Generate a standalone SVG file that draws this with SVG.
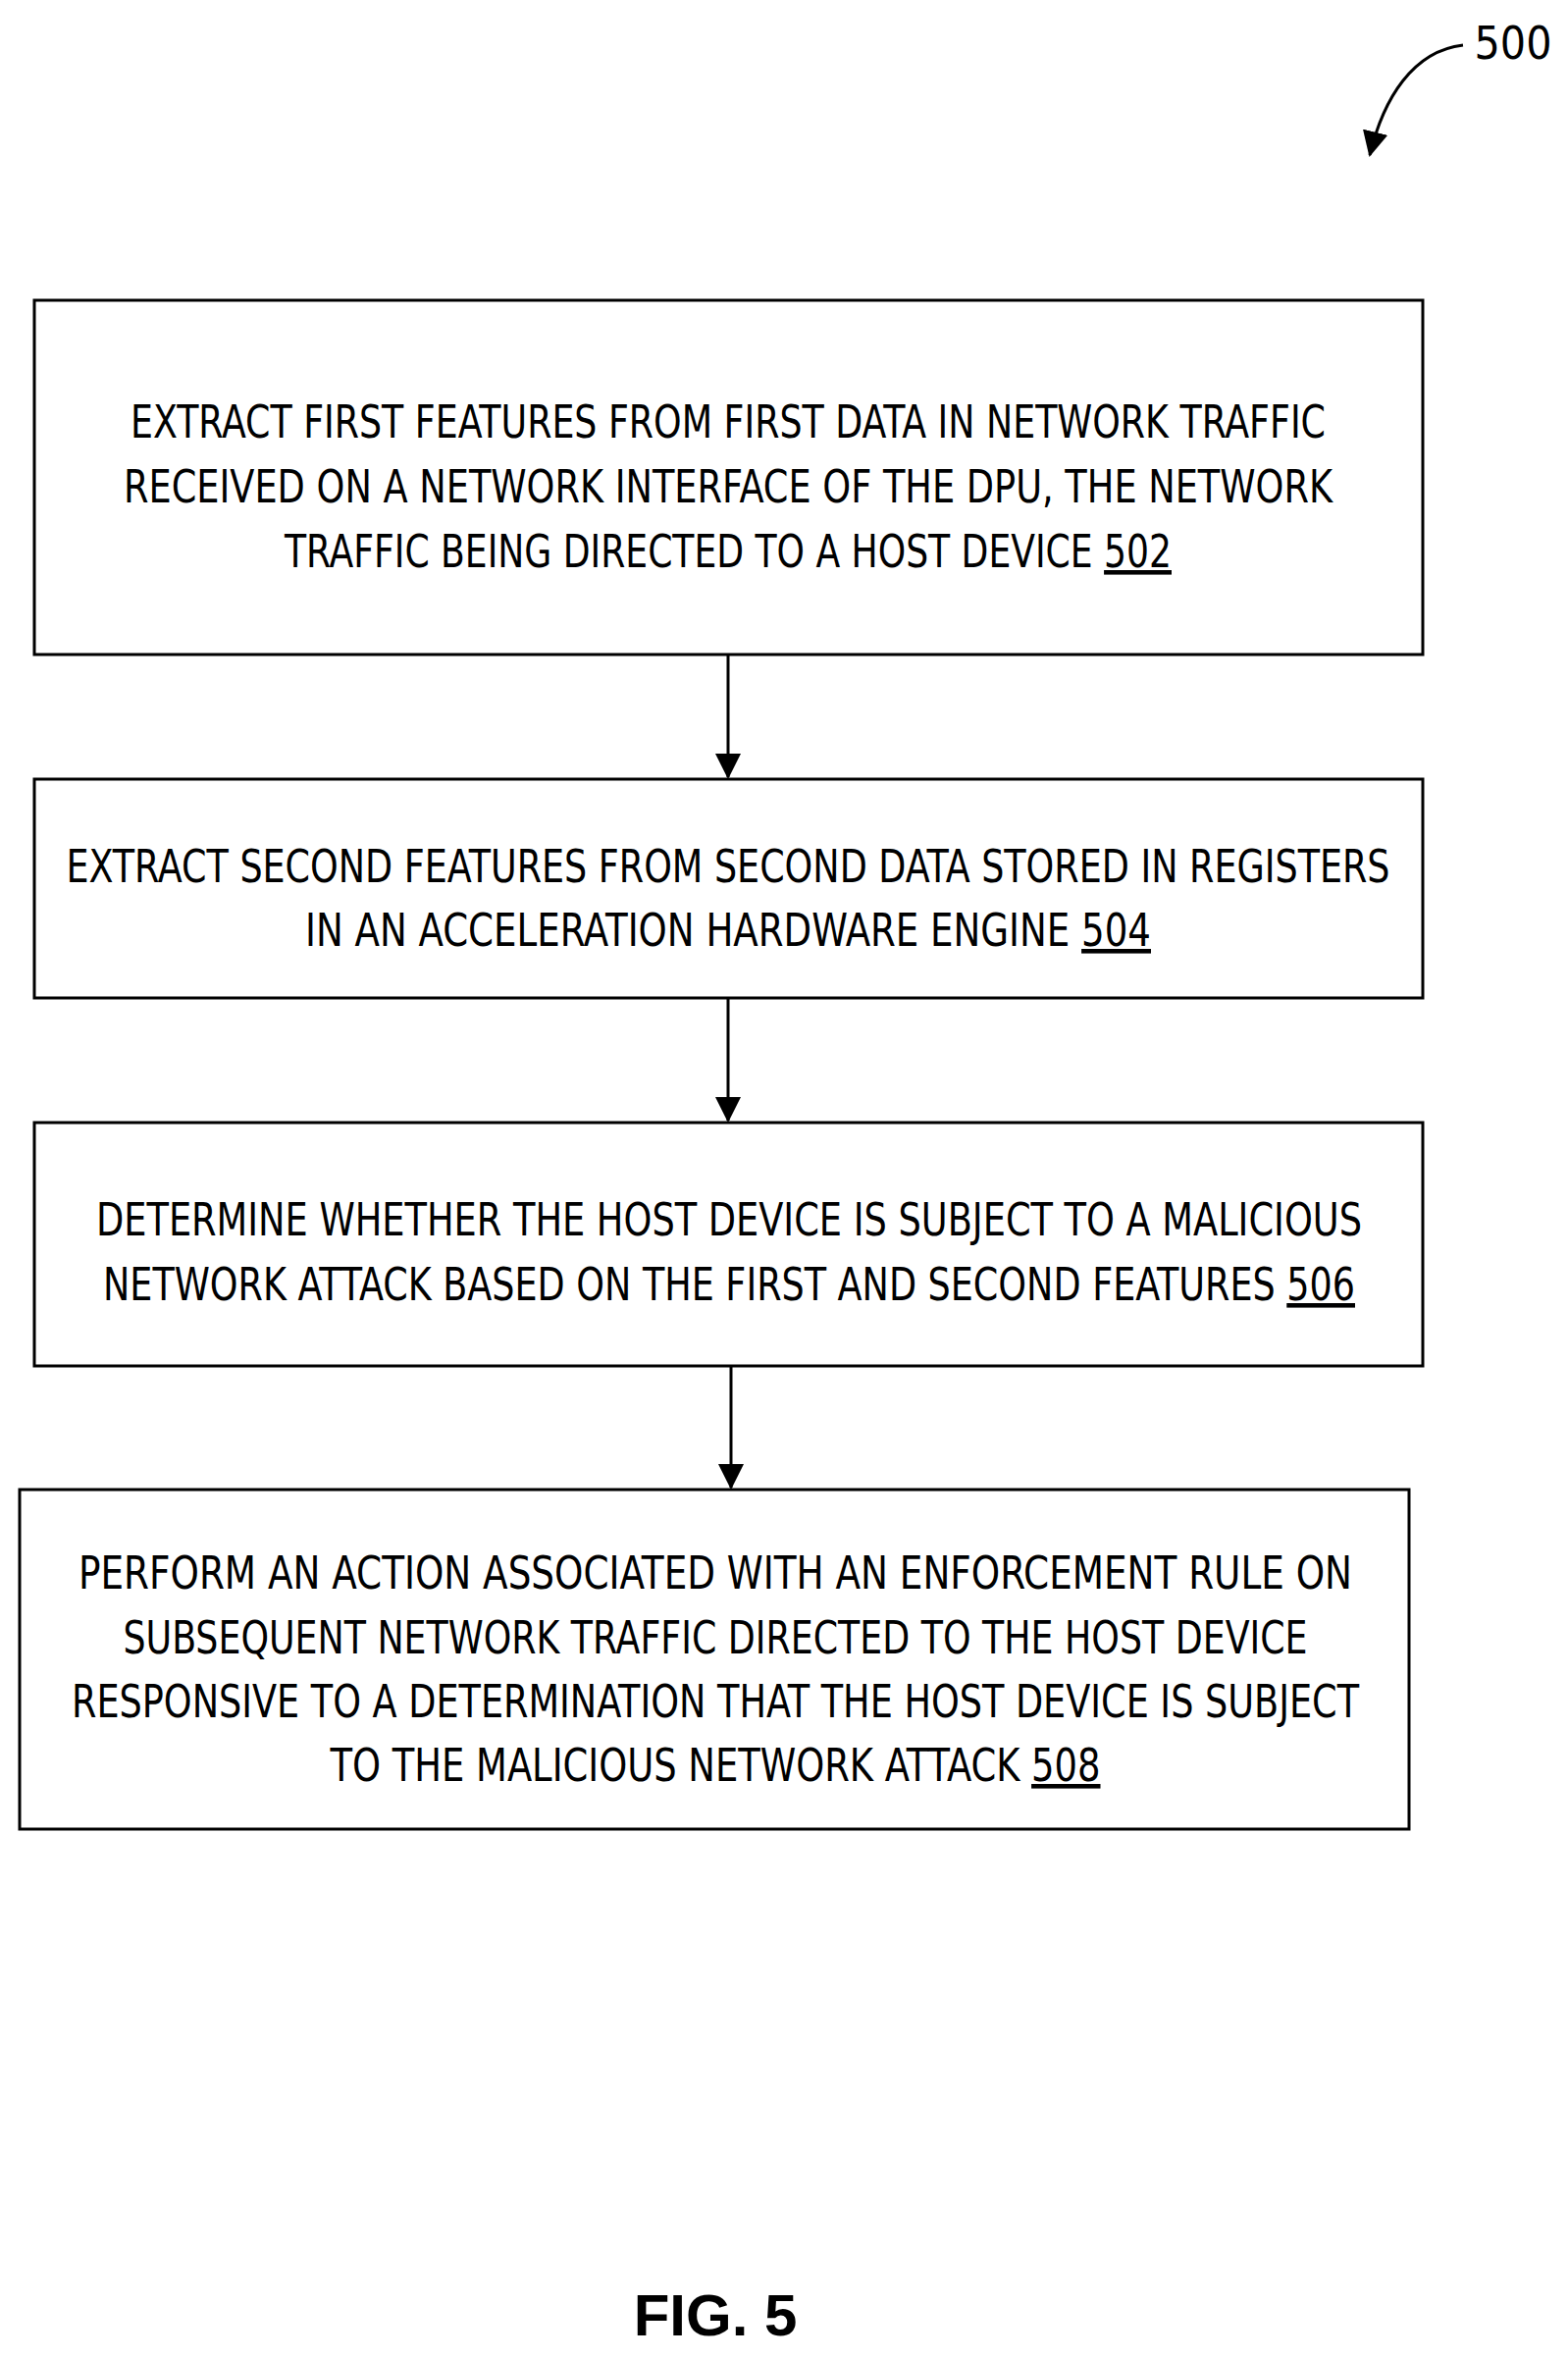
<svg xmlns="http://www.w3.org/2000/svg" width="1598" height="2403" viewBox="0 0 1598 2403">
<style>
.b{fill:#fff;stroke:#000;stroke-width:3}
.t{font-family:"Liberation Sans Narrow","DejaVu Sans Condensed","Liberation Sans",sans-serif;font-size:46px;text-anchor:middle;fill:#000}
.c{stroke:#000;stroke-width:3;fill:none}
u{text-decoration:underline}
</style>
<defs><marker id="a" markerWidth="10" markerHeight="10" refX="9" refY="5" orient="auto" markerUnits="userSpaceOnUse" viewBox="0 0 10 10"><path d="M0,0 L10,5 L0,10 z" fill="#000"/></marker>
<marker id="ah" markerWidth="26" markerHeight="26" refX="24" refY="13" orient="auto" markerUnits="userSpaceOnUse" viewBox="0 0 26 26"><path d="M0,0 L26,13 L0,26 z" fill="#000"/></marker></defs>
<g id="n502"><rect class="b" x="35" y="306" width="1415" height="361"/>
<text class="t" x="742" y="446" textLength="1218" lengthAdjust="spacingAndGlyphs">EXTRACT FIRST FEATURES FROM FIRST DATA IN NETWORK TRAFFIC</text>
<text class="t" x="742" y="512" textLength="1232" lengthAdjust="spacingAndGlyphs">RECEIVED ON A NETWORK INTERFACE OF THE DPU, THE NETWORK</text>
<text class="t" x="742" y="578" textLength="904" lengthAdjust="spacingAndGlyphs">TRAFFIC BEING DIRECTED TO A HOST DEVICE <tspan text-decoration="underline">502</tspan></text></g>
<g id="n504"><rect class="b" x="35" y="794" width="1415" height="223"/>
<text class="t" x="742" y="899" textLength="1349" lengthAdjust="spacingAndGlyphs">EXTRACT SECOND FEATURES FROM SECOND DATA STORED IN REGISTERS</text>
<text class="t" x="742" y="964" textLength="862" lengthAdjust="spacingAndGlyphs">IN AN ACCELERATION HARDWARE ENGINE <tspan text-decoration="underline">504</tspan></text></g>
<g id="n506"><rect class="b" x="35" y="1144" width="1415" height="248"/>
<text class="t" x="743" y="1259" textLength="1290" lengthAdjust="spacingAndGlyphs">DETERMINE WHETHER THE HOST DEVICE IS SUBJECT TO A MALICIOUS</text>
<text class="t" x="743" y="1325" textLength="1276" lengthAdjust="spacingAndGlyphs">NETWORK ATTACK BASED ON THE FIRST AND SECOND FEATURES <tspan text-decoration="underline">506</tspan></text></g>
<g id="n508"><rect class="b" x="20" y="1518" width="1416" height="346"/>
<text class="t" x="729" y="1619" textLength="1298" lengthAdjust="spacingAndGlyphs">PERFORM AN ACTION ASSOCIATED WITH AN ENFORCEMENT RULE ON</text>
<text class="t" x="729" y="1685" textLength="1207" lengthAdjust="spacingAndGlyphs">SUBSEQUENT NETWORK TRAFFIC DIRECTED TO THE HOST DEVICE</text>
<text class="t" x="729" y="1750" textLength="1312" lengthAdjust="spacingAndGlyphs">RESPONSIVE TO A DETERMINATION THAT THE HOST DEVICE IS SUBJECT</text>
<text class="t" x="729" y="1815" textLength="785" lengthAdjust="spacingAndGlyphs">TO THE MALICIOUS NETWORK ATTACK <tspan text-decoration="underline">508</tspan></text></g>
<g id="connectors">
<line class="c" x1="742" y1="667" x2="742" y2="792" marker-end="url(#ah)"/>
<line class="c" x1="742" y1="1017" x2="742" y2="1142" marker-end="url(#ah)"/>
<line class="c" x1="745" y1="1392" x2="745" y2="1516" marker-end="url(#ah)"/>
<path class="c" d="M1491,46 C1440,52 1410,100 1396,158" marker-end="url(#ah)"/>
</g>
<text x="1542" y="60" style="font-family:'Liberation Sans Narrow','DejaVu Sans Condensed',sans-serif;font-size:46px;text-anchor:middle">500</text>
<text x="729" y="2380" style="font-family:'Liberation Sans',Arial,sans-serif;font-size:60px;font-weight:bold;text-anchor:middle">FIG. 5</text>
</svg>
